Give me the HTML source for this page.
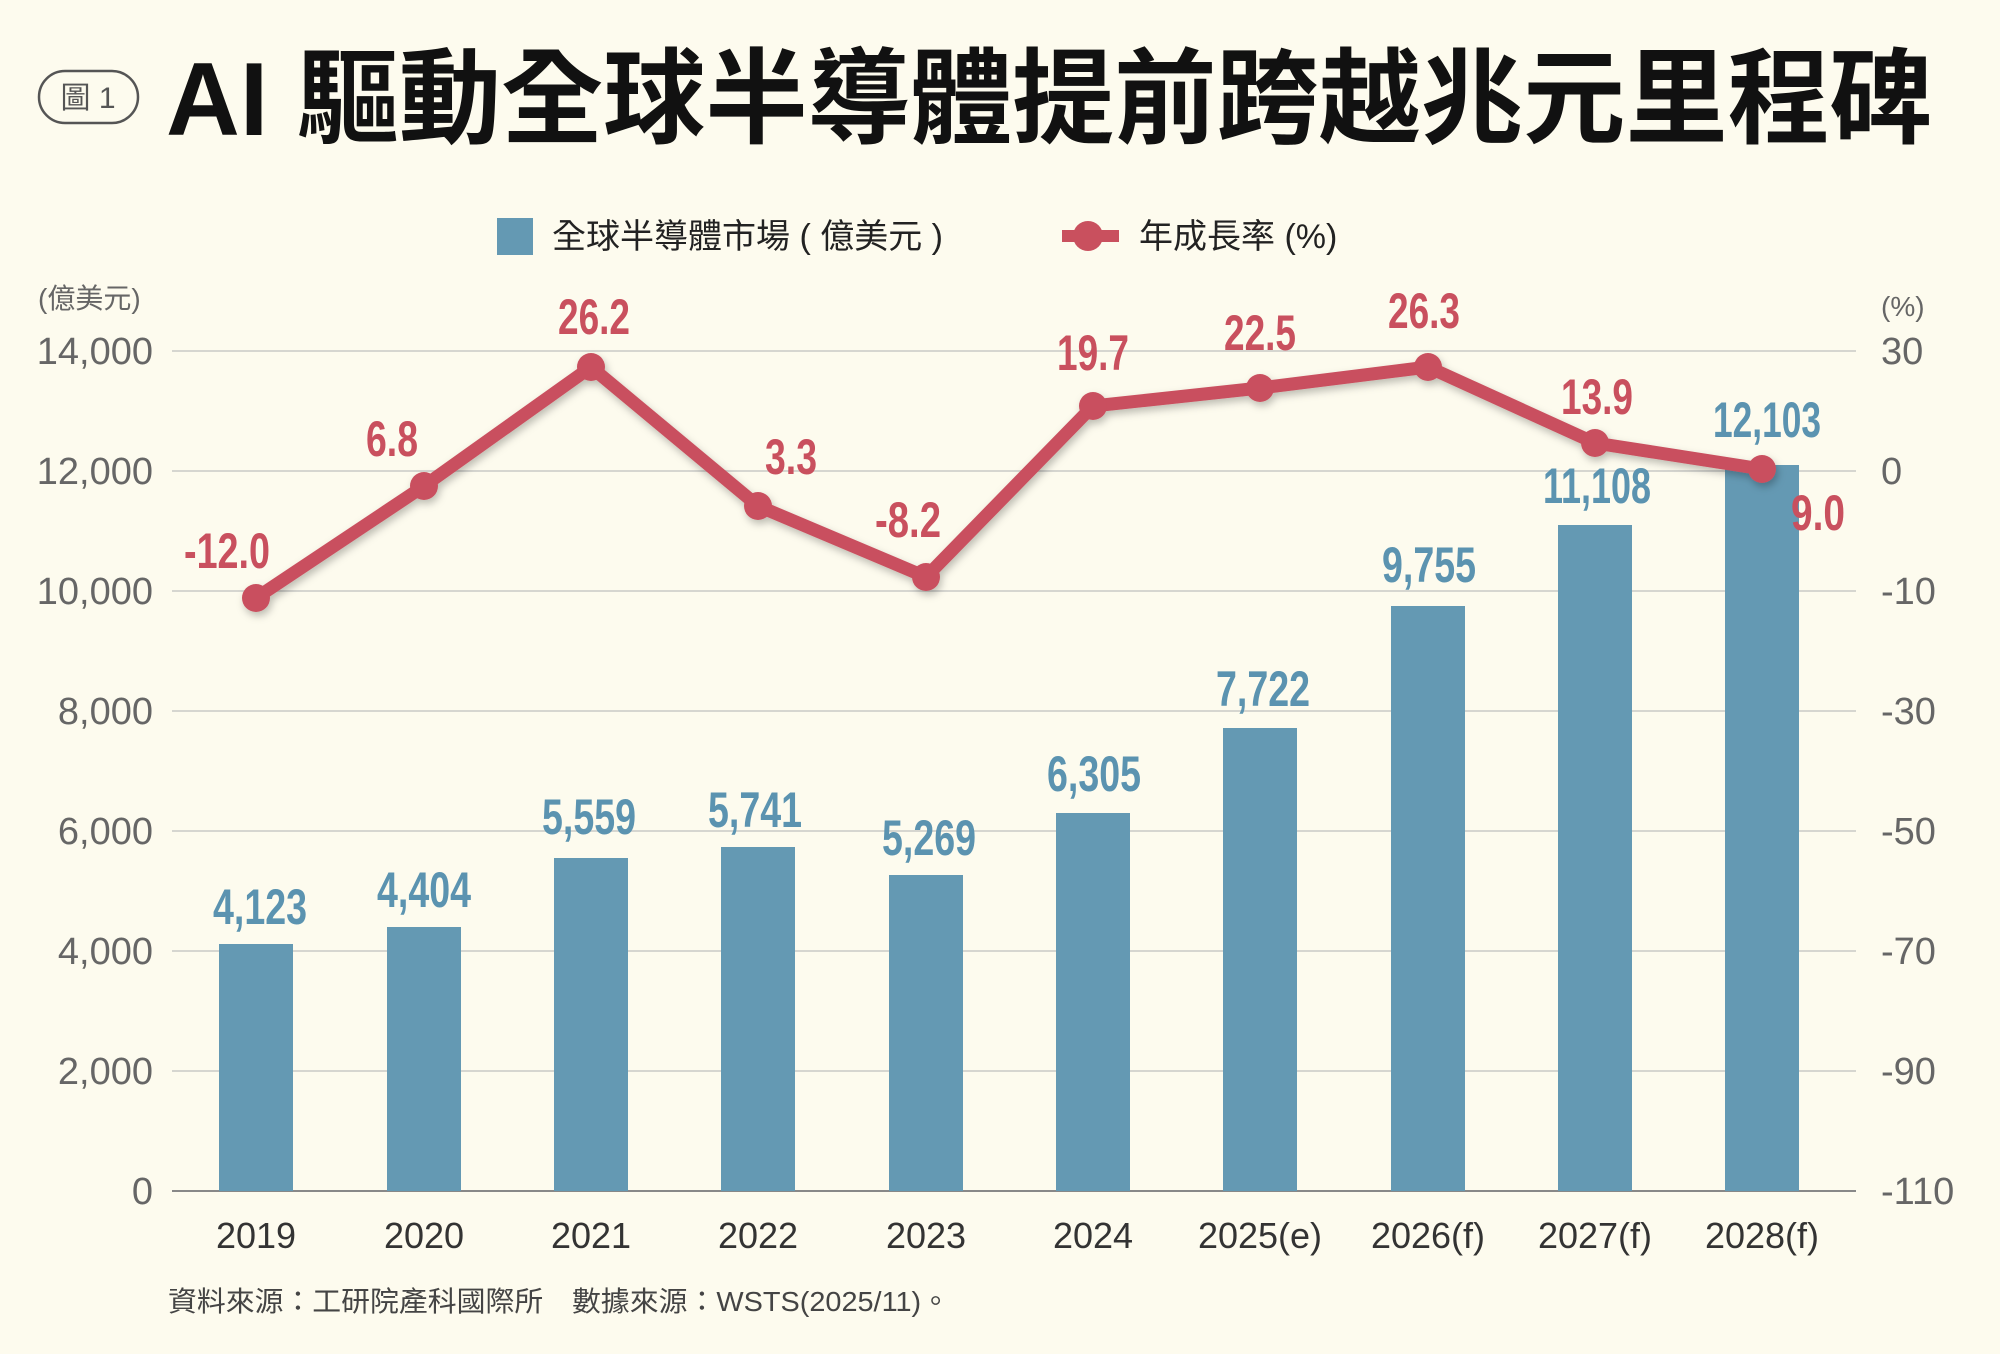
<!DOCTYPE html>
<html><head><meta charset="utf-8"><style>
html,body{margin:0;padding:0;background:#fdfbee;}
svg{display:block;}
text{font-family:"Liberation Sans","Noto Sans CJK TC",sans-serif;}
</style></head><body>
<svg width="2000" height="1354" viewBox="0 0 2000 1354" xmlns="http://www.w3.org/2000/svg">
<defs>
<filter id="sh" x="-10%" y="-10%" width="120%" height="130%"><feDropShadow dx="2" dy="4" stdDeviation="4" flood-color="#000" flood-opacity="0.25"/></filter>
</defs>
<rect width="2000" height="1354" fill="#fdfbee"/>
<rect x="39" y="71" width="99" height="52" rx="26" fill="none" stroke="#555" stroke-width="2.5"/>
<text x="88" y="108" font-size="30" fill="#555" text-anchor="middle">圖 1</text>
<text x="166" y="135" font-size="104" font-weight="bold" fill="#111" textLength="1766" lengthAdjust="spacingAndGlyphs">AI 驅動全球半導體提前跨越兆元里程碑</text>
<rect x="497" y="218" width="36" height="37" fill="#6499b3"/>
<text x="552" y="248" font-size="34" fill="#222">全球半導體市場 ( 億美元 )</text>
<line x1="1062" y1="236" x2="1119" y2="236" stroke="#c9505e" stroke-width="12"/>
<circle cx="1088" cy="236" r="15" fill="#c9505e"/>
<text x="1139" y="248" font-size="34" fill="#222">年成長率 (%)</text>
<text x="38" y="308" font-size="28" fill="#666">(億美元)</text>
<text x="1881" y="316" font-size="28" fill="#666">(%)</text>
<g stroke="#d6d6d0" stroke-width="2">
<line x1="172" y1="351" x2="1856" y2="351"/>
<line x1="172" y1="471" x2="1856" y2="471"/>
<line x1="172" y1="591" x2="1856" y2="591"/>
<line x1="172" y1="711" x2="1856" y2="711"/>
<line x1="172" y1="831" x2="1856" y2="831"/>
<line x1="172" y1="951" x2="1856" y2="951"/>
<line x1="172" y1="1071" x2="1856" y2="1071"/>
</g>
<line x1="172" y1="1191" x2="1856" y2="1191" stroke="#888" stroke-width="2"/>
<g font-size="38" fill="#666" text-anchor="end">
<text x="153" y="364">14,000</text>
<text x="153" y="484">12,000</text>
<text x="153" y="604">10,000</text>
<text x="153" y="724">8,000</text>
<text x="153" y="844">6,000</text>
<text x="153" y="964">4,000</text>
<text x="153" y="1084">2,000</text>
<text x="153" y="1204">0</text>
</g>
<g font-size="38" fill="#666">
<text x="1881" y="364">30</text>
<text x="1881" y="484">0</text>
<text x="1881" y="604">-10</text>
<text x="1881" y="724">-30</text>
<text x="1881" y="844">-50</text>
<text x="1881" y="964">-70</text>
<text x="1881" y="1084">-90</text>
<text x="1881" y="1204">-110</text>
</g>
<g fill="#6499b3">
<rect x="219" y="944" width="74" height="247"/>
<rect x="387" y="927" width="74" height="264"/>
<rect x="554" y="858" width="74" height="333"/>
<rect x="721" y="847" width="74" height="344"/>
<rect x="889" y="875" width="74" height="316"/>
<rect x="1056" y="813" width="74" height="378"/>
<rect x="1223" y="728" width="74" height="463"/>
<rect x="1391" y="606" width="74" height="585"/>
<rect x="1558" y="525" width="74" height="666"/>
<rect x="1725" y="465" width="74" height="726"/>
</g>
<g font-size="50" font-weight="bold" fill="#5b93b0" text-anchor="middle">
<text x="260" y="924" textLength="94" lengthAdjust="spacingAndGlyphs">4,123</text>
<text x="424" y="907" textLength="94" lengthAdjust="spacingAndGlyphs">4,404</text>
<text x="589" y="834" textLength="94" lengthAdjust="spacingAndGlyphs">5,559</text>
<text x="755" y="827" textLength="94" lengthAdjust="spacingAndGlyphs">5,741</text>
<text x="929" y="855" textLength="94" lengthAdjust="spacingAndGlyphs">5,269</text>
<text x="1094" y="791" textLength="94" lengthAdjust="spacingAndGlyphs">6,305</text>
<text x="1263" y="706" textLength="94" lengthAdjust="spacingAndGlyphs">7,722</text>
<text x="1429" y="582" textLength="94" lengthAdjust="spacingAndGlyphs">9,755</text>
<text x="1597" y="503" textLength="108" lengthAdjust="spacingAndGlyphs">11,108</text>
<text x="1767" y="437" textLength="108" lengthAdjust="spacingAndGlyphs">12,103</text>
</g>
<g filter="url(#sh)">
<polyline points="256,598 424,486 591,367 758,506 926,577 1093,406 1260,388 1428,367 1595,443 1762,469" fill="none" stroke="#c9505e" stroke-width="13" stroke-linejoin="round"/>
<g fill="#c9505e">
<circle cx="256" cy="598" r="14"/><circle cx="424" cy="486" r="14"/><circle cx="591" cy="367" r="14"/><circle cx="758" cy="506" r="14"/><circle cx="926" cy="577" r="14"/><circle cx="1093" cy="406" r="14"/><circle cx="1260" cy="388" r="14"/><circle cx="1428" cy="367" r="14"/><circle cx="1595" cy="443" r="14"/><circle cx="1762" cy="469" r="14"/>
</g>
</g>
<g font-size="50" font-weight="bold" fill="#c9505e" text-anchor="middle">
<text x="227" y="568" textLength="86" lengthAdjust="spacingAndGlyphs">-12.0</text>
<text x="392" y="456" textLength="52" lengthAdjust="spacingAndGlyphs">6.8</text>
<text x="594" y="334" textLength="72" lengthAdjust="spacingAndGlyphs">26.2</text>
<text x="791" y="474" textLength="52" lengthAdjust="spacingAndGlyphs">3.3</text>
<text x="908" y="537" textLength="66" lengthAdjust="spacingAndGlyphs">-8.2</text>
<text x="1093" y="370" textLength="72" lengthAdjust="spacingAndGlyphs">19.7</text>
<text x="1260" y="350" textLength="72" lengthAdjust="spacingAndGlyphs">22.5</text>
<text x="1424" y="328" textLength="72" lengthAdjust="spacingAndGlyphs">26.3</text>
<text x="1597" y="414" textLength="72" lengthAdjust="spacingAndGlyphs">13.9</text>
<text x="1818" y="530" textLength="54" lengthAdjust="spacingAndGlyphs">9.0</text>
</g>
<g font-size="36" fill="#333" text-anchor="middle">
<text x="256" y="1248">2019</text>
<text x="424" y="1248">2020</text>
<text x="591" y="1248">2021</text>
<text x="758" y="1248">2022</text>
<text x="926" y="1248">2023</text>
<text x="1093" y="1248">2024</text>
<text x="1260" y="1248">2025(e)</text>
<text x="1428" y="1248">2026(f)</text>
<text x="1595" y="1248">2027(f)</text>
<text x="1762" y="1248">2028(f)</text>
</g>
<text x="168" y="1311" font-size="28" fill="#444" textLength="782" lengthAdjust="spacingAndGlyphs">資料來源：工研院產科國際所　數據來源：WSTS(2025/11)。</text>
</svg>
</body></html>
